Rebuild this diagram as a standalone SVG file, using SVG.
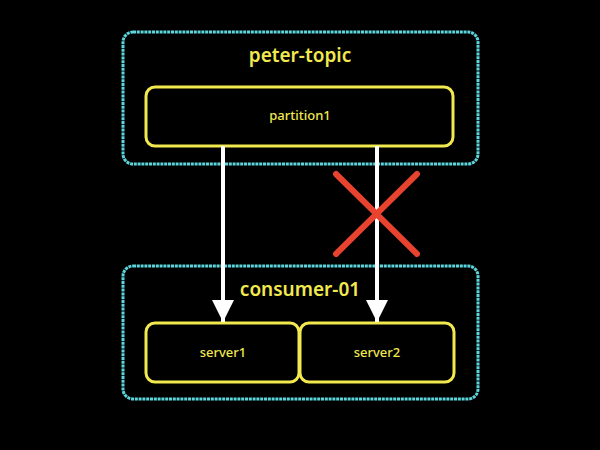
<svg xmlns="http://www.w3.org/2000/svg" width="600" height="450" viewBox="0 0 600 450">
<defs>
<style>
.group{fill:none;stroke:#5cd6dc;stroke-width:3;stroke-dasharray:3 0.8}
.box{fill:#000;stroke:#f2e94e;stroke-width:3}
.title{font-family:"Noto Sans","DejaVu Sans",sans-serif;font-size:19px;fill:#f2e94e;text-anchor:middle;font-weight:600}
.lbl{font-family:"Noto Sans","DejaVu Sans",sans-serif;font-size:13px;fill:#f2e94e;text-anchor:middle;font-weight:500}
.conn{stroke:#fff;stroke-width:4;fill:none}
.cross{stroke:#e8432e;stroke-width:6;stroke-linecap:round}
</style>
<marker id="ah" viewBox="0 0 10 10" refX="10" refY="5" markerWidth="5.5" markerHeight="5.5" markerUnits="strokeWidth" orient="auto">
<path d="M0,0 L10,5 L0,10 z" fill="#fff"/>
</marker>
</defs>
<rect width="600" height="450" fill="#000"/>
<g id="peter-topic">
<rect class="group" x="123" y="32" width="355" height="132" rx="10"/>
<text class="title" x="300" y="62">peter-topic</text>
</g>
<g id="partition1">
<rect class="box" x="146" y="87" width="307" height="59" rx="9"/>
<text class="lbl" x="300" y="120">partition1</text>
</g>
<g id="consumer-01">
<rect class="group" x="123" y="266" width="355" height="133" rx="10"/>
<text class="title" x="300" y="296">consumer-01</text>
</g>
<g id="server1">
<rect class="box" x="146" y="323" width="153" height="59" rx="9"/>
<text class="lbl" x="223" y="357">server1</text>
</g>
<g id="server2">
<rect class="box" x="300" y="323" width="154" height="59" rx="9"/>
<text class="lbl" x="377" y="357">server2</text>
</g>
<g id="connectors">
<line class="conn" x1="223" y1="146" x2="223" y2="322" marker-end="url(#ah)"/>
<line class="conn" x1="377" y1="146" x2="377" y2="322" marker-end="url(#ah)"/>
</g>
<g id="cross">
<line class="cross" x1="336" y1="174" x2="417" y2="254"/>
<line class="cross" x1="417" y1="174" x2="336" y2="254"/>
</g>
</svg>
